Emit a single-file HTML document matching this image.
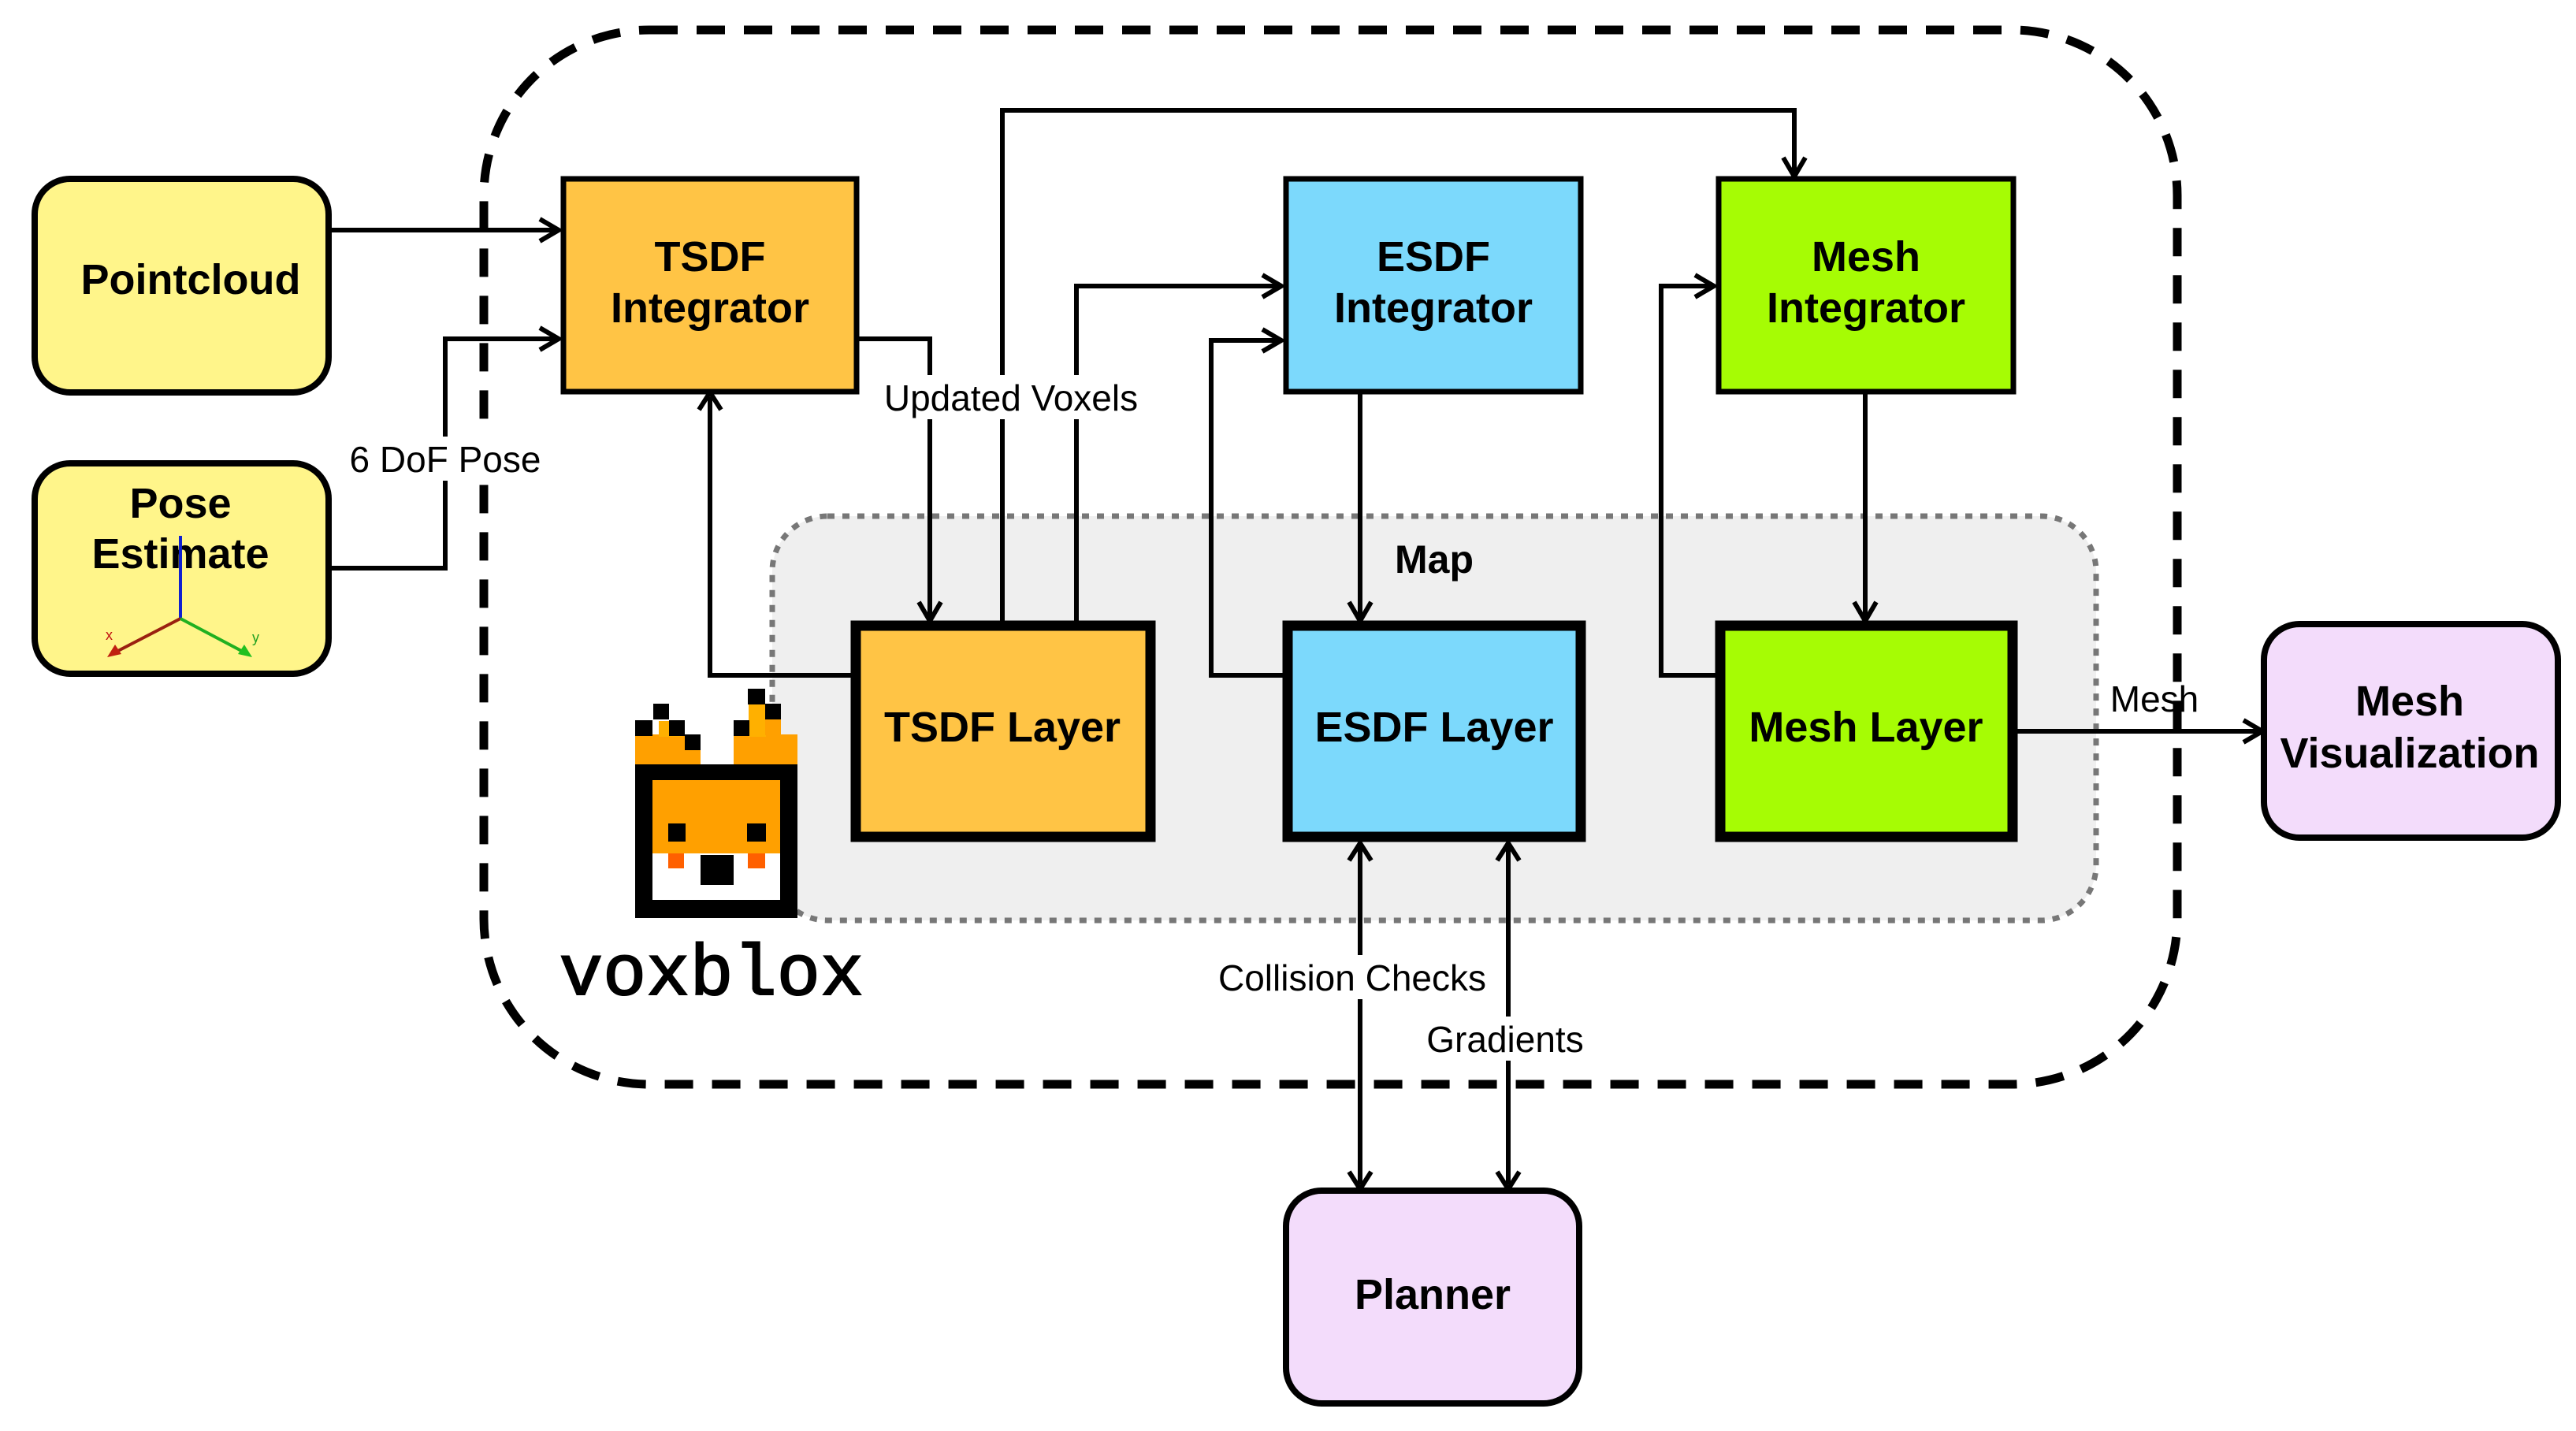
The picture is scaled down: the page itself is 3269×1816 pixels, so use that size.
<!DOCTYPE html>
<html><head><meta charset="utf-8"><style>
html,body{margin:0;padding:0;background:#fff;}
svg{display:block;}
.bl{font-family:"Liberation Sans",sans-serif;font-weight:bold;font-size:54px;text-anchor:middle;fill:#000;}
.el{font-family:"Liberation Sans",sans-serif;font-size:46px;text-anchor:middle;fill:#000;}
.ln{fill:none;stroke:#000;stroke-width:6;}
</style></head><body>
<svg width="3269" height="1816" viewBox="0 0 3269 1816" xmlns="http://www.w3.org/2000/svg">
<!-- outer dashed -->
<rect x="614" y="38" width="2149" height="1338" rx="210" fill="none" stroke="#000" stroke-width="11" stroke-dasharray="36,24"/>
<!-- Map area -->
<rect x="980" y="655" width="1680" height="513" rx="70" fill="#efefef" stroke="#777" stroke-width="7" stroke-dasharray="9,10"/>
<text class="bl" x="1820" y="727" style="font-size:50px">Map</text>

<g class="ln">
<path d="M419 292 H705"/>
<path d="M419 721 H565 V430 H705"/>
<path d="M1088 430 H1180 V782"/>
<path d="M1272 788 V140 H2277 V218"/>
<path d="M1366 788 V363 H1622"/>
<path d="M1080 857 H901 V504"/>
<path d="M1628 857 H1537 V432 H1622"/>
<path d="M1726 496 V782"/>
<path d="M2177 857 H2108 V363 H2171"/>
<path d="M2367 496 V782"/>
<path d="M2560 928 H2865"/>
<path d="M1726 1074 V1503"/>
<path d="M1914 1074 V1503"/>
</g>
<g fill="none" stroke="#000" stroke-width="6" stroke-linejoin="miter">
<path d="M685 278 L709 292 L685 306"/>
<path d="M685 416 L709 430 L685 444"/>
<path d="M1166 764 L1180 788 L1194 764"/>
<path d="M2263 200 L2277 224 L2291 200"/>
<path d="M1602 349 L1626 363 L1602 377"/>
<path d="M887 520 L901 498 L915 520"/>
<path d="M1602 418 L1626 432 L1602 446"/>
<path d="M1712 764 L1726 788 L1740 764"/>
<path d="M2151 349 L2175 363 L2151 377"/>
<path d="M2353 764 L2367 788 L2381 764"/>
<path d="M2847 914 L2871 928 L2847 942"/>
<path d="M1712 1092 L1726 1070 L1740 1092"/>
<path d="M1900 1092 L1914 1070 L1928 1092"/>
<path d="M1712 1487 L1726 1509 L1740 1487"/>
<path d="M1900 1487 L1914 1509 L1928 1487"/>
</g>
<rect x="1110" y="476" width="348" height="56" fill="#fff"/>
<text class="el" x="1283" y="521">Updated Voxels</text>
<rect x="432" y="554" width="268" height="56" fill="#fff"/>
<text class="el" x="565" y="599">6 DoF Pose</text>
<rect x="1528" y="1212" width="378" height="56" fill="#fff"/>
<text class="el" x="1716" y="1257">Collision Checks</text>
<rect x="1800" y="1290" width="220" height="56" fill="#fff"/>
<text class="el" x="1910" y="1335">Gradients</text>
<text class="el" x="2734" y="903">Mesh</text>

<rect x="44" y="227" width="373" height="271" rx="45" fill="#fff58a" stroke="#000" stroke-width="8"/>
<text class="bl" x="242" y="373">Pointcloud</text>
<rect x="44" y="588" width="373" height="267" rx="45" fill="#fff58a" stroke="#000" stroke-width="8"/>
<text class="bl" x="229" y="657">Pose</text>
<text class="bl" x="229" y="721">Estimate</text>
<g stroke-width="4">
<line x1="229" y1="785" x2="229" y2="680" stroke="#1020d0"/>
<line x1="229" y1="785" x2="142" y2="830" stroke="#9a2010"/>
<line x1="229" y1="785" x2="314" y2="830" stroke="#20b020"/>
</g>
<path d="M136 834 l10 -16 l8 12z" fill="#c02010"/>
<path d="M320 834 l-18 -4 l8 -12z" fill="#20c020"/>
<text x="134" y="812" font-family="Liberation Sans" font-size="18" fill="#c01010">x</text>
<text x="320" y="815" font-family="Liberation Sans" font-size="18" fill="#20a020">y</text>

<rect x="715" y="227" width="372" height="270" fill="#ffc445" stroke="#000" stroke-width="7"/>
<text class="bl" x="901" y="344">TSDF</text>
<text class="bl" x="901" y="409">Integrator</text>
<rect x="1632" y="227" width="374" height="270" fill="#7cd9fc" stroke="#000" stroke-width="7"/>
<text class="bl" x="1819" y="344">ESDF</text>
<text class="bl" x="1819" y="409">Integrator</text>
<rect x="2181" y="227" width="374" height="270" fill="#a6fc04" stroke="#000" stroke-width="7"/>
<text class="bl" x="2368" y="344">Mesh</text>
<text class="bl" x="2368" y="409">Integrator</text>

<rect x="1086" y="794" width="374" height="268" fill="#ffc445" stroke="#000" stroke-width="13"/>
<text class="bl" x="1272" y="941">TSDF Layer</text>
<rect x="1634" y="794" width="372" height="268" fill="#7cd9fc" stroke="#000" stroke-width="13"/>
<text class="bl" x="1820" y="941">ESDF Layer</text>
<rect x="2183" y="794" width="371" height="268" fill="#a6fc04" stroke="#000" stroke-width="13"/>
<text class="bl" x="2368" y="941">Mesh Layer</text>

<rect x="2873" y="792" width="373" height="271" rx="45" fill="#f3dcfb" stroke="#000" stroke-width="8"/>
<text class="bl" x="3058" y="908">Mesh</text>
<text class="bl" x="3058" y="974">Visualization</text>
<rect x="1632" y="1511" width="372" height="270" rx="45" fill="#f3dcfb" stroke="#000" stroke-width="8"/>
<text class="bl" x="1818" y="1661">Planner</text>

<g>
<rect x="806" y="932" width="83" height="38" fill="#ffa000"/>
<rect x="931" y="932" width="81" height="38" fill="#ffa000"/>
<rect x="836" y="915" width="30" height="20" fill="#ffb000"/>
<rect x="950" y="893" width="22" height="42" fill="#ffb000"/>
<rect x="829" y="893" width="20" height="20" fill="#000"/>
<rect x="806" y="914" width="22" height="20" fill="#000"/>
<rect x="849" y="914" width="20" height="20" fill="#000"/>
<rect x="869" y="932" width="20" height="20" fill="#000"/>
<rect x="949" y="874" width="22" height="20" fill="#000"/>
<rect x="971" y="893" width="20" height="20" fill="#000"/>
<rect x="931" y="914" width="20" height="20" fill="#000"/>
<rect x="971" y="913" width="20" height="20" fill="#ffa000"/>
<rect x="806" y="970" width="206" height="195" fill="#000"/>
<rect x="828" y="990" width="162" height="93" fill="#ffa000"/>
<rect x="828" y="1083" width="162" height="59" fill="#fff"/>
<rect x="848" y="1045" width="22" height="23" fill="#000"/>
<rect x="948" y="1045" width="24" height="23" fill="#000"/>
<rect x="848" y="1083" width="20" height="19" fill="#ff6000"/>
<rect x="949" y="1083" width="22" height="19" fill="#ff6000"/>
<rect x="889" y="1085" width="42" height="38" fill="#000"/>
</g>
<text x="903" y="1262" font-family="'Liberation Mono',monospace" font-size="92" text-anchor="middle" fill="#000" stroke="#000" stroke-width="2">voxblox</text>
</svg>
</body></html>
